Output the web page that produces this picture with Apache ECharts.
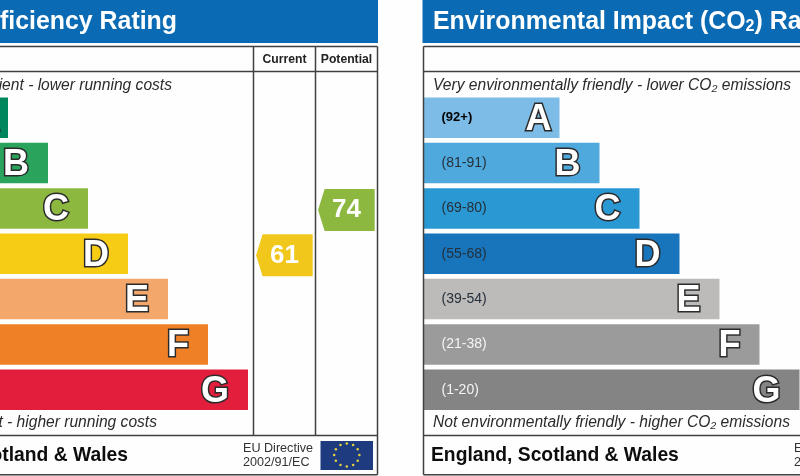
<!DOCTYPE html>
<html><head><meta charset="utf-8">
<style>html,body{margin:0;padding:0;background:#fff}#c{width:800px;height:476px}</style>
<script src="https://cdn.jsdelivr.net/npm/echarts@6/dist/echarts.min.js"></script></head>
<body><div id="c"></div>
<script>
const bands = ["A","B","C","D","E","F","G"];
const bandLengths = [34,44,54,64,74,84,94];
const bandRanges = ["(92+)","(81-91)","(69-80)","(55-68)","(39-54)","(21-38)","(1-20)"];
const bandFloors = [92,81,69,55,39,21,1];
const energyColors = ["#00865c","#2aa45c","#8cb83f","#f6cc15","#f3a76b","#ef8026","#e31e3d"];
const co2Colors = ["#7dbce6","#4fa9dc","#2a98d2","#1875bb","#bcbbb9","#9b9b9b","#848484"];
const rangeStyles = ["top","dark","dark","dark","dark","pale","pale"];
const ratingColumns = ["Current","Potential"];
const ratingValues = [61,74];
const ratingColors = ["#f1c71b","#8cb83f"];

const FONT = '"Liberation Sans", Arial, sans-serif';
const LINE = "#414141";
const chart = echarts.init(document.getElementById("c"), null, {renderer:"canvas"});

function bandOf(v){ return bands[bandFloors.findIndex(f => v >= f)]; }
function bandSeries(grid, colors){
  return {
    type:"bar", xAxisIndex:grid, yAxisIndex:grid, barWidth:40.5, silent:true,
    data: bandLengths.map((v,i)=>({
      value:v, name:bands[i], itemStyle:{color:colors[i]},
      label:{distance: i===0 ? 8 : 19}
    })),
    label:{show:true, position:"insideRight", formatter:"{b}", fontFamily:FONT, fontWeight:"bold",
      fontSize:36, color:"#fff", textBorderColor:"#2b2b2b", textBorderWidth:3, offset:[0,2]}
  };
}
function valueAxis(grid){ return {type:"value", gridIndex:grid, min:0, max:100, show:false}; }
function bandAxis(grid, showRanges){
  const base = {fontFamily:FONT, fontSize:14};
  return {type:"category", gridIndex:grid, inverse:true, data:bands, z:6,
    axisLine:{show:false}, axisTick:{show:false},
    axisLabel:{show:showRanges, inside:true, margin:18, interval:0,
      formatter:(v,i)=>"{"+rangeStyles[i]+"|"+bandRanges[i]+"}",
      rich:{
        top:Object.assign({},base,{fontSize:13,fontWeight:"bold",color:"#000"}),
        dark:Object.assign({},base,{color:"#26303a"}),
        pale:Object.assign({},base,{color:"#f4f4f4"})
      }}};
}
function txt(text,x,y,size,opt){
  return {type:"text", silent:true, z:10, style:Object.assign({text, x, y, fontFamily:FONT, fontSize:size,
    fill:"#2b2b2b", verticalAlign:"middle", align:"left"}, opt||{})};
}
function rect(x,y,w,h,fill){ return {type:"rect", silent:true, shape:{x,y,width:w,height:h}, style:{fill}}; }
function line(x1,y1,x2,y2){ return {type:"line", silent:true, z:5, shape:{x1,y1,x2,y2}, style:{stroke:LINE, lineWidth:1.5}}; }

const stars = [];
for(let k=0;k<12;k++){
  const a = k*Math.PI/6;
  stars.push({type:"circle", silent:true, z:12, shape:{cx:346.8+12.6*Math.sin(a), cy:455+11.6*Math.cos(a), r:1.25}, style:{fill:"#e4d33c"}});
}

const graphics = [
  rect(-128,0,506,43,"#0a6ab3"),
  rect(422.5,0,378,43,"#0a6ab3"),
  line(-128,46.5,377.5,46.5), line(423.5,46.5,800,46.5),
  line(-128,71.5,377.5,71.5), line(423.5,71.5,800,71.5),
  line(-128,435.5,377.5,435.5), line(423.5,435.5,800,435.5),
  line(-128,474.8,377.5,474.8), line(423.5,474.8,800,474.8),
  line(253.5,46.5,253.5,435.5), line(315.5,46.5,315.5,435.5), line(377.5,46.5,377.5,474.8),
  line(423.5,46.5,423.5,474.8),
  txt("Energy Efficiency Rating",177,22,24.9,{fill:"#fff",fontWeight:"bold",align:"right"}),
  txt("{a|Environmental Impact (CO}{s|2}{a|) Rating}",433,22,24.9,{fill:"#fff",fontWeight:"bold",
    rich:{a:{fontFamily:FONT,fontSize:24.9,fontWeight:"bold",fill:"#fff"},
          s:{fontFamily:FONT,fontSize:16,fontWeight:"bold",fill:"#fff",padding:[10,0,0,0]}}}),
  txt("Very energy efficient - lower running costs",172,85.5,15.6,{fontStyle:"italic",align:"right"}),
  txt("Not energy efficient - higher running costs",157,423,15.6,{fontStyle:"italic",align:"right"}),
  txt("Very environmentally friendly - lower CO₂ emissions",433,85.5,15.6,{fontStyle:"italic"}),
  txt("Not environmentally friendly - higher CO₂ emissions",433,423,15.6,{fontStyle:"italic"}),
  txt("England, Scotland & Wales",128,456,19.3,{fontWeight:"bold",fill:"#0d0d0d",align:"right"}),
  txt("England, Scotland & Wales",431,456,19.3,{fontWeight:"bold",fill:"#0d0d0d"}),
  txt("EU Directive",243,449,12.6,{fill:"#333"}),
  txt("2002/91/EC",243,463,12.6,{fill:"#333"}),
  txt("EU Directive",794,449,12.6,{fill:"#333"}),
  txt("2002/91/EC",794,463,12.6,{fill:"#333"}),
  rect(320.5,441,52.5,29,"#1f3b80")
].concat(stars);

chart.setOption({
  animation:false,
  backgroundColor:"#fefefe",
  graphic:{elements:graphics},
  grid:[
    {left:-128, top:95.1, width:400, height:317.3, outerBoundsMode:"none"},
    {left:423.5, top:95.1, width:400, height:317.3, outerBoundsMode:"none"},
    {left:253.5, top:95.1, width:124, height:317.3, outerBoundsMode:"none"}
  ],
  xAxis:[valueAxis(0), valueAxis(1),
    {type:"category", gridIndex:2, position:"top", data:ratingColumns,
     axisLine:{show:false}, axisTick:{show:false},
     axisLabel:{margin:29, interval:0, hideOverlap:false, fontFamily:FONT, fontWeight:"bold", fontSize:12.2, color:"#222"}}],
  yAxis:[bandAxis(0,false), bandAxis(1,true),
    {type:"category", gridIndex:2, inverse:true, data:bands, show:false}],
  series:[
    bandSeries(0, energyColors),
    bandSeries(1, co2Colors),
    {type:"custom", xAxisIndex:2, yAxisIndex:2, silent:true, clip:false,
     encode:{x:0,y:1},
     data: ratingColumns.map((c,i)=>[c, bandOf(ratingValues[i]), ratingValues[i]]),
     renderItem(params, api){
       const p = api.coord([api.value(0), api.value(1)]);
       const s = api.size([1,1]);
       const l = p[0]-s[0]/2+2.6, r = p[0]+s[0]/2-2.8, cy = p[1]+1.6, h = 21;
       return {type:"group", children:[
         {type:"polygon", shape:{points:[[l,cy],[l+6.5,cy-h],[r,cy-h],[r,cy+h],[l+6.5,cy+h]]},
          style:{fill:ratingColors[params.dataIndex]}},
         {type:"text", style:{text:String(api.value(2)), x:(l+r)/2, y:cy, align:"center", verticalAlign:"middle",
          fontFamily:FONT, fontWeight:"bold", fontSize:26, fill:"#fff"}}
       ]};
     }}
  ]
});
</script></body></html>
